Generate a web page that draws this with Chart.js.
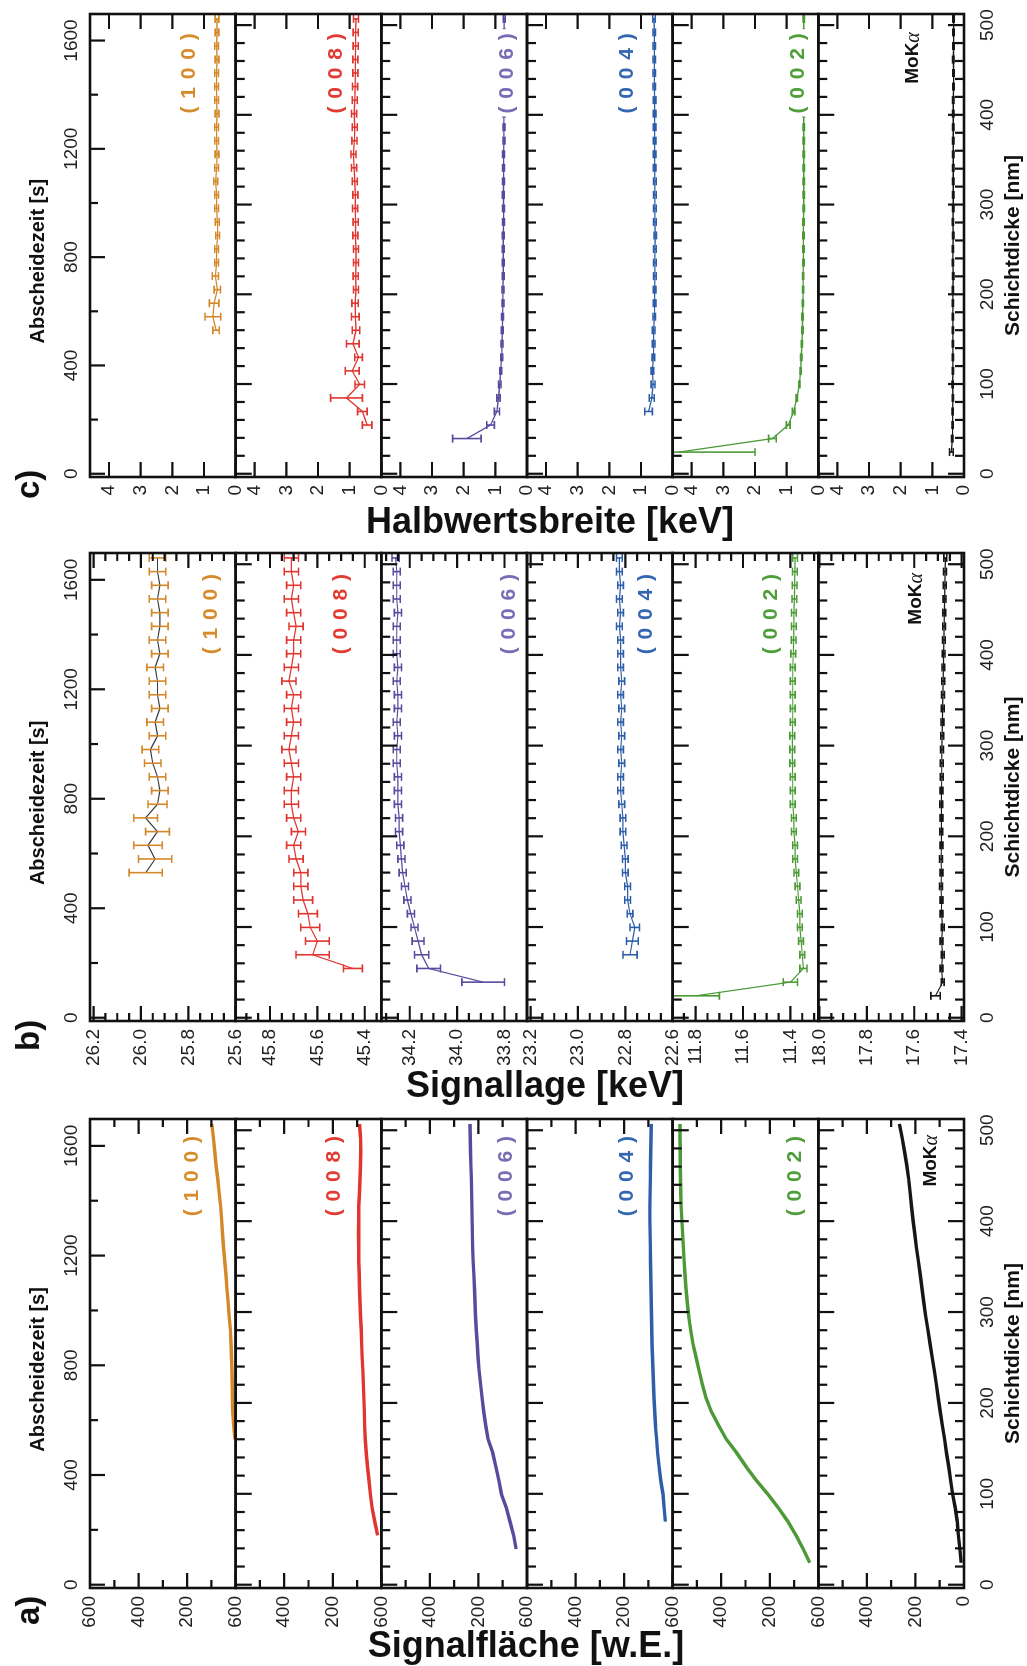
<!DOCTYPE html>
<html>
<head>
<meta charset="utf-8">
<script src="https://cdn.jsdelivr.net/npm/chart.js"></script>
<style>
  body { margin: 0; background: #fff; width: 1027px; height: 1666px; overflow: hidden; position: relative;
         font-family: "Liberation Sans", Arial, sans-serif; }
  #rot { position: absolute; left: 0; top: 0; width: 1666px; height: 1027px;
         transform-origin: 0 0; transform: translate(0, 1666px) rotate(-90deg); }
  #rot canvas { position: absolute; top: 0; }
  .title { position: absolute; font-weight: bold; font-size: 36px; line-height: 36px; white-space: nowrap;
           transform: translateX(-50%); color: #111; }
</style>
</head>
<body>
<div id="rot">
  <canvas id="pa" width="559" height="1027" style="left:0px;width:559px;height:1027px"></canvas>
  <canvas id="pb" width="558" height="1027" style="left:567px;width:558px;height:1027px"></canvas>
  <canvas id="pc" width="553" height="1027" style="left:1111px;width:553px;height:1027px"></canvas>
</div>
<div class="title" style="left:550px;top:503px">Halbwertsbreite [keV]</div>
<div class="title" style="left:545px;top:1067px">Signallage [keV]</div>
<div class="title" style="left:526px;top:1627px">Signalfläche [w.E.]</div>

<script>
// deposition time of each measurement [s]
const TIME = [80, 130, 180, 230, 280, 330, 380, 430, 480, 530, 580, 630, 680, 730, 780, 830, 880,
              930, 980, 1030, 1080, 1130, 1180, 1230, 1280, 1330, 1380, 1430, 1480, 1530, 1580, 1630, 1680];
const TIME_TICKS = [0, 400, 800, 1200, 1600];
const THICK_TICKS = [0, 100, 200, 300, 400, 500];
const SEC_PER_NM = 3.314;
const REFLEXES = ['(100)', '(008)', '(006)', '(004)', '(002)', 'MoKα'];

// a) Signalfläche [w.E.]
const areaA_100 = [null, null, null, null, null, null, null, null, null, 3, 8, 12, 13, 14, 15, 17, 19, 22, 27, 31, 36, 40, 45, 50, 54, 58, 62, 68, 74, 81, 86, 92, 98];
const areaA_008 = [null, null, 15, 27, 38, 45, 51, 57, 62, 66, 69, 70, 72, 74, 76, 79, 81, 83, 86, 88, 90, 91, 93, 93, 94, 93, 93, 90, 88, 86, 85, 86, 90];
const areaA_006 = [null, 45, 55, 70, 85, 105, 116, 128, 141, 160, 170, 178, 185, 191, 197, 202, 205, 209, 212, 214, 216, 219, 222, 224, 225, 226, 227, 228, 229, 231, 233, 234, 235];
const areaA_004 = [null, null, null, 30, 35, 40, 49, 56, 62, 66, 71, 74, 77, 79, 81, 83, 85, 86, 87, 88, 89, 90, 91, 92, 93, 94, 94, 93, 92, 91, 90, 89, 88];
const areaA_002 = [35, 62, 92, 125, 165, 208, 255, 297, 336, 379, 410, 440, 462, 478, 491, 504, 517, 526, 534, 540, 545, 549, 553, 556, 559, 562, 565, 567, 568, 569, 569, 570, 570];
const areaA_MoK = [12, 17, 23, 28, 36, 47, 55, 63, 72, 80, 89, 98, 106, 114, 122, 131, 140, 149, 158, 166, 173, 180, 188, 196, 203, 210, 216, 222, 228, 236, 245, 255, 266];

// b) Signallage [keV] with errors
const posB_100 = [null, null, null, null, null, null, null, null, null, 25.98, 25.94, 25.97, 25.93, 25.98, 25.93, 25.92, 25.93, 25.95, 25.96, 25.93, 25.94, 25.92, 25.93, 25.93, 25.94, 25.92, 25.93, 25.92, 25.92, 25.93, 25.92, 25.93, 25.93];
const errB_100 = [null, null, null, null, null, null, null, null, null, 0.07, 0.07, 0.06, 0.05, 0.05, 0.04, 0.035, 0.035, 0.035, 0.035, 0.035, 0.035, 0.035, 0.035, 0.035, 0.035, 0.035, 0.035, 0.035, 0.035, 0.035, 0.035, 0.035, 0.035];
const posB_008 = [null, null, 45.45, 45.62, 45.60, 45.63, 45.64, 45.66, 45.67, 45.67, 45.69, 45.70, 45.68, 45.70, 45.71, 45.71, 45.70, 45.71, 45.72, 45.71, 45.70, 45.71, 45.70, 45.72, 45.71, 45.70, 45.70, 45.69, 45.70, 45.71, 45.70, 45.71, 45.71];
const errB_008 = [null, null, 0.04, 0.07, 0.05, 0.04, 0.04, 0.04, 0.03, 0.03, 0.03, 0.03, 0.03, 0.03, 0.03, 0.03, 0.03, 0.03, 0.03, 0.03, 0.03, 0.03, 0.03, 0.03, 0.03, 0.03, 0.03, 0.03, 0.03, 0.03, 0.03, 0.03, 0.03];
const posB_006 = [null, 33.89, 34.12, 34.15, 34.165, 34.18, 34.195, 34.21, 34.22, 34.23, 34.235, 34.24, 34.245, 34.245, 34.25, 34.25, 34.25, 34.255, 34.255, 34.25, 34.255, 34.25, 34.25, 34.255, 34.25, 34.255, 34.255, 34.255, 34.25, 34.255, 34.255, 34.255, 34.26];
const errB_006 = [null, 0.09, 0.05, 0.03, 0.025, 0.015, 0.015, 0.015, 0.015, 0.015, 0.015, 0.015, 0.015, 0.015, 0.015, 0.015, 0.015, 0.015, 0.015, 0.015, 0.015, 0.015, 0.015, 0.015, 0.015, 0.015, 0.015, 0.015, 0.015, 0.015, 0.015, 0.015, 0.015];
const posB_004 = [null, null, null, 22.78, 22.77, 22.76, 22.78, 22.79, 22.79, 22.80, 22.80, 22.805, 22.81, 22.81, 22.815, 22.82, 22.82, 22.815, 22.82, 22.815, 22.82, 22.815, 22.82, 22.815, 22.82, 22.82, 22.82, 22.825, 22.82, 22.825, 22.82, 22.825, 22.825];
const errB_004 = [null, null, null, 0.03, 0.025, 0.02, 0.012, 0.012, 0.012, 0.012, 0.012, 0.012, 0.012, 0.012, 0.012, 0.012, 0.012, 0.012, 0.012, 0.012, 0.012, 0.012, 0.012, 0.012, 0.012, 0.012, 0.012, 0.012, 0.012, 0.012, 0.012, 0.012, 0.012];
const posB_002 = [11.80, 11.40, 11.345, 11.35, 11.355, 11.36, 11.36, 11.365, 11.37, 11.375, 11.38, 11.38, 11.385, 11.385, 11.39, 11.39, 11.39, 11.392, 11.392, 11.392, 11.39, 11.39, 11.39, 11.39, 11.39, 11.388, 11.386, 11.385, 11.385, 11.383, 11.382, 11.381, 11.38];
const errB_002 = [0.1, 0.03, 0.015, 0.01, 0.01, 0.01, 0.01, 0.01, 0.01, 0.01, 0.01, 0.01, 0.01, 0.01, 0.01, 0.01, 0.01, 0.01, 0.01, 0.01, 0.01, 0.01, 0.01, 0.01, 0.01, 0.01, 0.01, 0.01, 0.01, 0.01, 0.01, 0.01, 0.01];
const posB_MoK = [17.51, 17.48, 17.485, 17.48, 17.485, 17.48, 17.485, 17.485, 17.487, 17.485, 17.487, 17.485, 17.486, 17.485, 17.486, 17.485, 17.484, 17.484, 17.483, 17.482, 17.481, 17.48, 17.479, 17.478, 17.477, 17.476, 17.475, 17.474, 17.473, 17.472, 17.471, 17.47, 17.469];
const errB_MoK = [0.02, 0.006, 0.006, 0.006, 0.006, 0.006, 0.006, 0.006, 0.006, 0.006, 0.006, 0.006, 0.006, 0.006, 0.006, 0.006, 0.006, 0.006, 0.006, 0.006, 0.006, 0.006, 0.006, 0.006, 0.006, 0.006, 0.006, 0.006, 0.006, 0.006, 0.006, 0.006, 0.006];

// c) Halbwertsbreite [keV] with errors
const fwC_100 = [null, null, null, null, null, null, null, null, null, 0.62, 0.72, 0.68, 0.58, 0.64, 0.6, 0.6, 0.57, 0.58, 0.6, 0.6, 0.63, 0.6, 0.59, 0.6, 0.6, 0.59, 0.6, 0.6, 0.6, 0.59, 0.6, 0.59, 0.59];
const errC_100 = [null, null, null, null, null, null, null, null, null, 0.1, 0.25, 0.15, 0.1, 0.1, 0.06, 0.06, 0.06, 0.06, 0.06, 0.06, 0.06, 0.06, 0.06, 0.06, 0.06, 0.06, 0.06, 0.06, 0.06, 0.06, 0.06, 0.06, 0.06];
const fwC_008 = [null, null, 0.45, 0.6, 1.1, 0.68, 0.92, 0.72, 0.9, 0.8, 0.82, 0.83, 0.8, 0.81, 0.8, 0.8, 0.82, 0.81, 0.83, 0.82, 0.84, 0.86, 0.88, 0.85, 0.84, 0.86, 0.84, 0.83, 0.82, 0.82, 0.81, 0.81, 0.8];
const errC_008 = [null, null, 0.15, 0.15, 0.5, 0.15, 0.22, 0.12, 0.2, 0.12, 0.12, 0.1, 0.08, 0.08, 0.08, 0.08, 0.08, 0.08, 0.08, 0.08, 0.08, 0.08, 0.08, 0.08, 0.08, 0.08, 0.08, 0.08, 0.08, 0.08, 0.08, 0.08, 0.08];
const fwC_006 = [null, 1.9, 1.15, 0.95, 0.9, 0.86, 0.83, 0.8, 0.79, 0.78, 0.77, 0.76, 0.76, 0.75, 0.75, 0.75, 0.75, 0.74, 0.74, 0.75, 0.74, 0.74, 0.74, 0.73, 0.73, 0.73, 0.73, 0.73, 0.72, 0.72, 0.72, 0.72, 0.72];
const errC_006 = [null, 0.45, 0.12, 0.08, 0.05, 0.04, 0.03, 0.03, 0.03, 0.03, 0.03, 0.03, 0.03, 0.03, 0.03, 0.03, 0.03, 0.03, 0.03, 0.03, 0.03, 0.03, 0.03, 0.03, 0.03, 0.03, 0.03, 0.03, 0.03, 0.03, 0.03, 0.03, 0.03];
const fwC_004 = [null, null, null, 0.76, 0.66, 0.62, 0.64, 0.61, 0.6, 0.6, 0.58, 0.57, 0.57, 0.56, 0.56, 0.56, 0.55, 0.56, 0.56, 0.56, 0.56, 0.57, 0.57, 0.57, 0.57, 0.57, 0.57, 0.58, 0.58, 0.58, 0.58, 0.58, 0.59];
const errC_004 = [null, null, null, 0.12, 0.08, 0.06, 0.04, 0.04, 0.04, 0.04, 0.04, 0.04, 0.04, 0.04, 0.04, 0.04, 0.04, 0.04, 0.04, 0.04, 0.04, 0.04, 0.04, 0.04, 0.04, 0.04, 0.04, 0.04, 0.04, 0.04, 0.04, 0.04, 0.04];
const fwC_002 = [4.4, 1.45, 0.95, 0.78, 0.68, 0.6, 0.56, 0.54, 0.52, 0.5, 0.5, 0.49, 0.48, 0.48, 0.47, 0.47, 0.47, 0.47, 0.46, 0.46, 0.46, 0.46, 0.46, 0.46, 0.46, 0.46, 0.46, 0.46, 0.46, 0.46, 0.46, 0.46, 0.46];
const errC_002 = [2.4, 0.12, 0.06, 0.04, 0.02, 0.02, 0.02, 0.02, 0.02, 0.02, 0.02, 0.02, 0.02, 0.02, 0.02, 0.02, 0.02, 0.02, 0.02, 0.02, 0.02, 0.02, 0.02, 0.02, 0.02, 0.02, 0.02, 0.02, 0.02, 0.02, 0.02, 0.02, 0.02];
const fwC_MoK = [0.40, 0.37, 0.36, 0.36, 0.35, 0.36, 0.35, 0.35, 0.35, 0.35, 0.35, 0.35, 0.35, 0.34, 0.35, 0.35, 0.34, 0.35, 0.34, 0.34, 0.34, 0.34, 0.34, 0.34, 0.34, 0.34, 0.34, 0.33, 0.33, 0.34, 0.33, 0.33, 0.33];
const errC_MoK = [0.06, 0.02, 0.02, 0.02, 0.02, 0.02, 0.02, 0.02, 0.02, 0.02, 0.02, 0.02, 0.02, 0.02, 0.02, 0.02, 0.02, 0.02, 0.02, 0.02, 0.02, 0.02, 0.02, 0.02, 0.02, 0.02, 0.02, 0.02, 0.02, 0.02, 0.02, 0.02, 0.02];

// axis limits and tick labels of the value axes
const RANGE_A = [[0, 600], [0, 600], [0, 600], [0, 600], [0, 600], [0, 600]];
const RANGE_B = [[25.6, 26.215], [45.33, 45.945], [33.705, 34.32], [22.6, 23.215], [11.282, 11.897], [17.39, 18.005]];
const RANGE_C = [[0, 4.6], [0, 4.6], [0, 4.6], [0, 4.6], [0, 4.6], [0, 4.6]];
const TICKS_A = [[600, 400, 200], [600, 400, 200], [600, 400, 200], [600, 400, 200], [600, 400, 200], [600, 400, 200, 0]];
const TICKS_B = [[26.2, 26.0, 25.8, 25.6], [45.8, 45.6, 45.4], [34.2, 34.0, 33.8], [23.2, 23.0, 22.8, 22.6], [11.8, 11.6, 11.4], [18.0, 17.8, 17.6, 17.4]];
const TICKS_C = [[4, 3, 2, 1, 0], [4, 3, 2, 1, 0], [4, 3, 2, 1, 0], [4, 3, 2, 1, 0], [4, 3, 2, 1, 0], [4, 3, 2, 1, 0]];

const TMIN = -12, TMAX = 1698;
const LINE_COLORS = ['#d4882a', '#e0362f', '#574b9e', '#2e5ea9', '#4b9a36', '#161616'];
const LABEL_COLORS = ['#d68b2c', '#e23b33', '#7a6cb4', '#3566b2', '#4f9e3a', '#111111'];
const FONT = '"Liberation Sans", Arial, sans-serif';
Chart.defaults.font.family = FONT;

const panels = [
  { id: 'pa', letter: 'a)', letterDx: -37, digits: 0, minor: 100, major: 200, lw: 3.4,
    series: [areaA_100, areaA_008, areaA_006, areaA_004, areaA_002, areaA_MoK], errors: null,
    ranges: RANGE_A, ticks: TICKS_A, labelT: 1640, labelDy: [102, 99, 125, 100, 123, 112] },
  { id: 'pb', letter: 'b)', letterDx: -30, digits: 1, minor: 0.05, major: 0.2, lw: 1.2,
    series: [posB_100, posB_008, posB_006, posB_004, posB_002, posB_MoK],
    errors: [errB_100, errB_008, errB_006, errB_004, errB_002, errB_MoK],
    lineColors: ['#3a3a3a'],
    ranges: RANGE_B, ticks: TICKS_B, labelT: 1625, labelDy: [121, 106, 128, 119, 99, 97] },
  { id: 'pc', letter: 'c)', letterDx: -22, digits: 0, minor: 1, major: 1, lw: 1.3,
    series: [fwC_100, fwC_008, fwC_006, fwC_004, fwC_002, fwC_MoK],
    errors: [errC_100, errC_008, errC_006, errC_004, errC_002, errC_MoK],
    ranges: RANGE_C, ticks: TICKS_C, labelT: 1631, labelDy: [99, 101, 126, 100, 126, 94] }
];

function seg(ctx, x1, y1, x2, y2) { ctx.moveTo(x1, y1); ctx.lineTo(x2, y2); }

function drawReflex(ctx, text, xRight, yMid, color) {
  ctx.save();
  ctx.textBaseline = 'middle';
  ctx.textAlign = 'left';
  if (text === 'MoKα') {
    const fb = 'bold 19px ' + FONT, fi = 'italic 20px "Liberation Serif", "DejaVu Serif", serif';
    ctx.font = fb; const w1 = ctx.measureText('MoK').width;
    ctx.font = fi; const w2 = ctx.measureText('α').width;
    ctx.fillStyle = '#fff';
    ctx.fillRect(xRight - w1 - w2 - 3, yMid - 11, w1 + w2 + 6, 22);
    ctx.fillStyle = color;
    ctx.font = fb; ctx.fillText('MoK', xRight - w1 - w2, yMid);
    ctx.font = fi; ctx.fillText('α', xRight - w2, yMid + 1);
  } else {
    const s = text.split('').join(' ');
    ctx.font = 'bold 21px ' + FONT;
    ctx.letterSpacing = '1px';
    const w = ctx.measureText(s).width;
    ctx.fillStyle = '#fff';
    ctx.fillRect(xRight - w - 3, yMid - 13, w + 6, 26);
    ctx.fillStyle = color;
    ctx.fillText(s, xRight - w, yMid);
  }
  ctx.restore();
}

function panelPlugin(p) {
  return {
    id: 'panel_' + p.id,
    afterDatasetsDraw(chart) {
      const ctx = chart.ctx, ca = chart.chartArea;
      const xs = chart.scales.x, x2 = chart.scales.x2;
      const rows = p.series.map((_, r) => chart.scales['y' + r]);
      ctx.save();
      // error bars
      chart.data.datasets.forEach((ds, r) => {
        if (!ds.err) return;
        const ys = rows[r];
        ctx.save();
        ctx.beginPath(); ctx.rect(ca.left, ys.top, ca.width, ys.height); ctx.clip();
        ctx.strokeStyle = LINE_COLORS[r]; ctx.lineWidth = 1.6;
        ctx.beginPath();
        ds.data.forEach((pt, i) => {
          const e = ds.err[i];
          if (pt.y == null || e == null) return;
          const px = xs.getPixelForValue(pt.x);
          const y1 = ys.getPixelForValue(pt.y - e), y2 = ys.getPixelForValue(pt.y + e);
          seg(ctx, px, y1, px, y2);
          seg(ctx, px - 4, y1, px + 4, y1);
          seg(ctx, px - 4, y2, px + 4, y2);
        });
        ctx.stroke();
        ctx.restore();
      });
      // reflex labels
      rows.forEach((ys, r) => drawReflex(ctx, REFLEXES[r], xs.getPixelForValue(p.labelT), ys.top + p.labelDy[r], LABEL_COLORS[r]));
      // inward ticks
      ctx.strokeStyle = '#111'; ctx.lineWidth = 2.2;
      ctx.beginPath();
      rows.forEach((ys, r) => {
        const [lo, hi] = p.ranges[r];
        for (let k = Math.ceil(lo / p.minor - 1e-6); k * p.minor <= hi + 1e-9; k++) {
          const v = k * p.minor;
          const y = ys.getPixelForValue(v);
          const major = Math.abs(v / p.major - Math.round(v / p.major)) < 1e-6;
          const len = major ? 15 : 8;
          seg(ctx, ca.left, y, ca.left + len, y);
          seg(ctx, ca.right - len, y, ca.right, y);
        }
        const thick = (edge, dir) => {
          for (let nm = 0; nm <= x2.max; nm += 20) {
            const x = x2.getPixelForValue(nm);
            seg(ctx, x, edge, x, edge + dir * (nm % 100 === 0 ? 16 : 9));
          }
        };
        if (r > 0) thick(ys.top, 1);
        if (r === rows.length - 1) thick(ys.bottom, -1);
      });
      for (let t = 0; t <= TMAX; t += 200) {
        const x = xs.getPixelForValue(t);
        seg(ctx, x, ca.top, x, ca.top + (t % 400 === 0 ? 15 : 8));
      }
      ctx.stroke();
      // frames
      ctx.lineWidth = 2.6;
      rows.forEach(ys => ctx.strokeRect(ca.left, ys.top, ca.width, ys.height));
      // axis titles and panel letter
      ctx.fillStyle = '#111';
      ctx.textBaseline = 'middle';
      ctx.textAlign = 'center';
      ctx.font = 'bold 20px ' + FONT;
      ctx.fillText('Abscheidezeit [s]', xs.getPixelForValue(785), 38);
      ctx.font = 'bold 21px ' + FONT;
      ctx.fillText('Schichtdicke [nm]', (ca.left + ca.right) / 2, 1013);
      ctx.textAlign = 'left';
      ctx.font = 'bold 33px ' + FONT;
      ctx.fillText(p.letter, ca.left + p.letterDx, 30);
      ctx.restore();
    }
  };
}

const tickFont = { size: 19, family: FONT };

function makeChart(p) {
  const scales = {
    x: {
      type: 'linear', position: 'top', min: TMIN, max: TMAX,
      afterBuildTicks: s => { s.ticks = TIME_TICKS.map(v => ({ value: v })); },
      afterFit: s => { s.height = 90; s.paddingLeft = 0; s.paddingRight = 0; },
      grid: { display: false, drawTicks: false }, border: { display: false },
      ticks: { font: tickFont, color: '#222', padding: 7, maxRotation: 0, autoSkip: false,
               callback: v => String(Math.round(v)) }
    },
    x2: {
      type: 'linear', position: 'bottom', min: TMIN / SEC_PER_NM, max: TMAX / SEC_PER_NM,
      afterBuildTicks: s => { s.ticks = THICK_TICKS.map(v => ({ value: v })); },
      afterFit: s => { s.height = 63; s.paddingLeft = 0; s.paddingRight = 0; },
      grid: { display: false, drawTicks: false }, border: { display: false },
      ticks: { font: tickFont, color: '#222', padding: 12, maxRotation: 0, autoSkip: false,
               callback: v => String(Math.round(v)) }
    }
  };
  p.series.forEach((vals, r) => {
    scales['y' + r] = {
      type: 'linear', position: 'left', stack: 'rows', stackWeight: 1, weight: 6 - r,
      min: p.ranges[r][0], max: p.ranges[r][1],
      afterBuildTicks: s => { s.ticks = p.ticks[r].map(v => ({ value: v })); },
      afterFit: s => { s.width = 78; s.paddingTop = 0; s.paddingBottom = 0; },
      grid: { display: false, drawTicks: false }, border: { display: false },
      ticks: { font: tickFont, color: '#222', padding: 8, autoSkip: false,
               callback: v => Number(v).toFixed(p.digits) }
    };
  });
  const datasets = p.series.map((vals, r) => ({
    data: TIME.map((t, i) => ({ x: t, y: vals[i] })),
    xAxisID: 'x', yAxisID: 'y' + r,
    borderColor: (p.lineColors && p.lineColors[r]) || LINE_COLORS[r],
    borderWidth: p.lw, pointRadius: 0, showLine: true, fill: false, tension: 0,
    err: p.errors ? p.errors[r] : null
  }));
  return new Chart(document.getElementById(p.id), {
    type: 'scatter',
    data: { datasets },
    options: {
      responsive: false, animation: false, devicePixelRatio: 1, events: [],
      layout: { padding: { left: 0, right: 12, top: 0, bottom: 0 }, autoPadding: false },
      plugins: { legend: { display: false }, tooltip: { enabled: false } },
      scales
    },
    plugins: [panelPlugin(p)]
  });
}

panels.forEach(makeChart);
</script>
</body>
</html>
